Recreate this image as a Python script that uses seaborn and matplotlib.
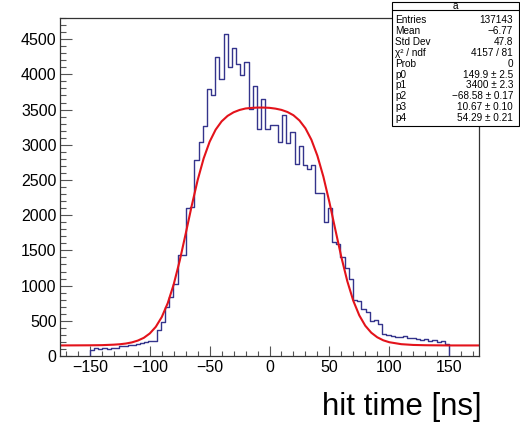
import numpy as np
import pandas as pd
import matplotlib
matplotlib.use("Agg")
import matplotlib.pyplot as plt
from matplotlib.patches import Rectangle
from matplotlib.lines import Line2D
from matplotlib.ticker import MultipleLocator
import seaborn as sns

# ---- data ----
bin_lo, bin_hi, n_bins = -150.0, 150.0, 86
counts = [90, 110, 105, 110, 105, 115, 120, 135, 140, 150, 155, 170, 185, 195, 210, 215,
          370, 480, 690, 840, 1020, 1430, 1440, 2100, 2110, 2780, 3046, 3268, 3790, 3700, 4244, 3932,
          4570, 4105, 4375, 4150, 3990, 4174, 3505, 3841, 3226, 3647, 3230, 3283, 3283, 3036, 3420, 3030,
          3188, 2733, 2989, 2714, 2657, 2714, 2321, 2321, 1905, 2095, 1617, 1596, 1400, 1250, 1087, 800,
          780, 670, 620, 500, 510, 460, 315, 300, 285, 270, 275, 280, 250, 260, 245, 230,
          240, 215, 230, 200, 215, 175]

fit_x = [-175, -150, -140, -130, -125, -120, -115, -110, -105, -100, -95, -90, -85, -80, -75, -70,
         -65, -60, -55, -50, -45, -40, -35, -30, -25, -20, -15, -10, -5, 0, 5, 10, 15, 20, 25, 30,
         35, 40, 45, 50, 55, 60, 65, 70, 75, 80, 85, 90, 95, 100, 110, 120, 130, 150, 175]
fit_y = [150, 152, 154, 161, 167, 177, 193, 219, 258, 320, 414, 553, 751, 1018, 1353, 1737,
         2132, 2499, 2806, 3043, 3214, 3332, 3410, 3461, 3494, 3515, 3523, 3528, 3528, 3524, 3513, 3495, 3465, 3419, 3345, 3234,
         3071, 2844, 2547, 2187, 1794, 1406, 1062, 784, 577, 430, 331, 266, 223, 196, 168, 157, 153, 150, 150]

stats_title = "a"
stats_labels = ["Entries", "Mean", "Std Dev", "\u03c7\u00b2 / ndf", "Prob", "p0", "p1", "p2", "p3", "p4"]
stats_values = ["137143", "\u22126.77", "47.8", "4157 / 81", "0",
                "149.9 \u00b1 2.5", "3400 \u00b1 2.3", "\u221268.58 \u00b1 0.17",
                "10.67 \u00b1 0.10", "54.29 \u00b1 0.21"]

x_label = "hit time [ns]"

# ---- build table ----
edges = np.linspace(bin_lo, bin_hi, n_bins + 1)
centers = 0.5 * (edges[:-1] + edges[1:])
df = pd.DataFrame({"t": centers, "n": counts})
fit_df = pd.DataFrame({"t": fit_x, "f": fit_y})

sns.set_style("white")
plt.rcParams["font.family"] = ["Liberation Sans", "DejaVu Sans"]
plt.rcParams["axes.unicode_minus"] = True
plt.rcParams["text.color"] = "black"
plt.rcParams["xtick.labelcolor"] = "black"
plt.rcParams["ytick.labelcolor"] = "black"

fig = plt.figure(figsize=(5.2, 4.25), dpi=100)
ax = fig.add_axes([60 / 520, 69 / 425, 419 / 520, 338 / 425])

hist_color = "#34348c"
sns.histplot(data=df, x="t", weights="n", bins=n_bins, binrange=(bin_lo, bin_hi),
             element="step", fill=False, color=hist_color, linewidth=1.0, ax=ax)
# histogram outline drops to zero at both ends (ROOT style)
ax.vlines([edges[0], edges[-1]], 0, [counts[0], counts[-1]], color=hist_color, linewidth=1.0)

sns.lineplot(data=fit_df, x="t", y="f", color="#e3131b", linewidth=1.5, ax=ax)

ax.set_xlim(-175, 175)
ax.set_ylim(0, 4800)
ax.set_xlabel("")
ax.set_ylabel("")

ax.xaxis.set_major_locator(MultipleLocator(50))
ax.xaxis.set_minor_locator(MultipleLocator(10))
ax.yaxis.set_major_locator(MultipleLocator(500))
ax.yaxis.set_minor_locator(MultipleLocator(100))

ax.tick_params(axis="y", which="major", direction="in", length=8.6, width=0.8,
               color="#555555", labelsize=11.5, pad=2.5, left=True, right=False,
               labelcolor="black")
ax.tick_params(axis="y", which="minor", direction="in", length=4.3, width=0.8,
               color="#555555", left=True, right=False)
ax.tick_params(axis="x", which="major", direction="in", length=7.2, width=0.8,
               color="#555555", labelsize=11.5, pad=3, bottom=True, top=False,
               labelcolor="black")
ax.tick_params(axis="x", which="minor", direction="in", length=3.6, width=0.8,
               color="#555555", bottom=True, top=False)

for s in ax.spines.values():
    s.set_visible(True)
    s.set_color("#333333")
    s.set_linewidth(0.9)

fig.text(482 / 520, 10 / 425, x_label, ha="right", va="baseline", fontsize=22.5, color="black")

# ---- stats box ----
bx0, bx1 = 392 / 520, 519 / 520
by1, by0 = 1 - 2 / 425, 1 - 126 / 425
fig.patches.append(Rectangle((bx0, by0), bx1 - bx0, by1 - by0, transform=fig.transFigure,
                             facecolor="white", edgecolor="black", linewidth=0.8, zorder=5))
sep_y = 1 - 10 / 425
fig.lines.append(Line2D([bx0, bx1], [sep_y, sep_y], transform=fig.transFigure,
                        color="black", linewidth=0.8, zorder=6))
fig.text((bx0 + bx1) / 2, 1 - 6 / 425, stats_title, ha="center", va="center", fontsize=7.2,
         color="black", zorder=7)
for i, (lab, val) in enumerate(zip(stats_labels, stats_values)):
    yy = 1 - (20 + 10.9 * i) / 425
    fig.text(395 / 520, yy, lab, ha="left", va="center", fontsize=7.2, color="black", zorder=7)
    fig.text(513 / 520, yy, val, ha="right", va="center", fontsize=7.2, color="black", zorder=7)

fig.savefig("out.png", dpi=100)
